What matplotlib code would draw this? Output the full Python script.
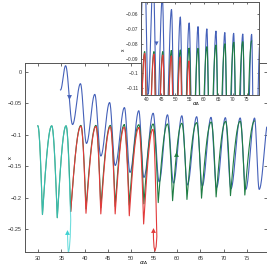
import numpy as np
import matplotlib
matplotlib.use('Agg')
import matplotlib.pyplot as plt
from matplotlib.ticker import FuncFormatter

# ---- data: extrema (peaks / troughs) of each branch ----
cyan_x = [29.9, 30.9, 32.9, 34.1, 36.0, 37.0]
cyan_y = [-0.086, -0.227, -0.086, -0.232, -0.086, -0.235]
cyan_tail_x = [37.0, 36.9, 36.7, 36.5, 36.38, 36.3]
cyan_tail_y = [-0.235, -0.262, -0.281, -0.288, -0.276, -0.256]

red_x = [37.0, 39.2, 40.3, 42.45, 43.5, 45.55, 46.6, 48.55, 49.65, 51.7, 52.75, 54.75, 55.6]
red_y = [-0.222, -0.0865, -0.225, -0.087, -0.226, -0.0876, -0.226, -0.0882, -0.229,
         -0.0891, -0.242, -0.0916, -0.262]
red_tail_x = [55.6, 55.45, 55.2, 55.0, 54.88, 54.85]
red_tail_y = [-0.262, -0.278, -0.285, -0.279, -0.266, -0.254]

green_x = [29.9, 30.9, 32.9, 34.1, 36.0, 37.0, 39.2, 40.3, 42.45, 43.5, 45.55, 46.6,
           48.55, 49.65, 51.7, 52.8, 54.8, 55.9, 57.9, 59.0, 61.0, 62.1, 64.2, 65.25,
           67.35, 68.4, 70.45, 71.5, 73.6, 74.6, 76.7]
green_y = [-0.086, -0.227, -0.086, -0.232, -0.086, -0.222, -0.0853, -0.218, -0.0853,
           -0.216, -0.0853, -0.214, -0.0846, -0.212, -0.0842, -0.210, -0.0831, -0.208,
           -0.0831, -0.205, -0.082, -0.203, -0.0809, -0.201, -0.080, -0.199, -0.079,
           -0.197, -0.0786, -0.196, -0.0782]

blue_x = [34.8, 35.9, 37.4, 39.1, 40.4, 42.2, 43.5, 45.4, 46.6, 48.6, 49.8, 51.7, 52.8,
          54.8, 56.1, 57.9, 59.2, 61.0, 62.2, 64.2, 65.4, 67.3, 68.5, 70.4, 71.6, 73.6,
          74.8, 76.7, 77.7, 79.8]
blue_y = [-0.029, 0.0095, -0.084, -0.019, -0.114, -0.036, -0.134, -0.049, -0.149, -0.057,
          -0.160, -0.062, -0.168, -0.066, -0.175, -0.0685, -0.177, -0.070, -0.180,
          -0.0715, -0.182, -0.0725, -0.184, -0.073, -0.186, -0.0735, -0.187, -0.0737,
          -0.187, -0.074]

# arrow heads (x, y, direction)
arrows_main = [(36.6, -0.041, 'v', 'blue'), (36.3, -0.254, '^', 'cyan'),
               (54.85, -0.252, '^', 'red'), (59.7, -0.131, '^', 'green')]
arrows_inset = [(43.05, -0.0797, 'v', 'blue')]

colors = {'blue': '#4561b9', 'red': '#e23b3b', 'cyan': '#3fd2d2', 'green': '#1f7d43'}


def wave(xs, ys, style='arch', n=40):
    # draw the curve through the extrema, half wave by half wave
    px, py = [], []
    for i in range(len(xs) - 1):
        t = np.linspace(0, 1, n)
        x0, x1, y0, y1 = xs[i], xs[i + 1], ys[i], ys[i + 1]
        if style == 'cos':
            s = (1 - np.cos(np.pi * t)) / 2
        elif y1 < y0:
            s = 1 - np.cos(np.pi * t / 2)   # round top, sharp bottom
        else:
            s = np.sin(np.pi * t / 2)
        px.extend(x0 + (x1 - x0) * t)
        py.extend(y0 + (y1 - y0) * s)
    return np.array(px), np.array(py)


def fmt(v, pos):
    return ('%g' % round(v, 4)).replace('-', '\u2212')


def draw(ax, arrows, ms):
    lw = 0.8
    bx, by = wave(blue_x, blue_y, 'cos')
    ax.plot(bx, by, color=colors['blue'], lw=lw)
    gx, gy = wave(green_x, green_y)
    ax.plot(gx, gy, color=colors['green'], lw=lw)
    rx, ry = wave(red_x, red_y)
    ax.plot(list(rx) + red_tail_x[1:], list(ry) + red_tail_y[1:], color=colors['red'], lw=lw)
    cx, cy = wave(cyan_x, cyan_y)
    ax.plot(list(cx) + cyan_tail_x[1:], list(cy) + cyan_tail_y[1:],
            color=colors['cyan'], lw=lw, alpha=0.75)
    for x, y, m, c in arrows:
        ax.plot(x, y, marker=m, color=colors[c], ms=ms, mew=0)


plt.rcParams['font.family'] = ['Liberation Sans', 'DejaVu Sans']
fig = plt.figure(figsize=(2.67, 2.69), dpi=100)

# main axes
ax = fig.add_axes([25 / 267, (269 - 252.3) / 269, 241.5 / 267, 189.6 / 269])
draw(ax, arrows_main, 3.5)
ax.set_xlim(27.13, 79.28)
ax.set_ylim(-0.287, 0.0143)
ax.set_xticks([30, 35, 40, 45, 50, 55, 60, 65, 70, 75])
ax.set_yticks([0, -0.05, -0.1, -0.15, -0.2, -0.25])
ax.yaxis.set_major_formatter(FuncFormatter(fmt))
ax.tick_params(direction='in', top=True, right=True, length=2, width=0.5,
               labelsize=4, pad=2.5, colors='#333333')
ax.set_xlabel(r'$\alpha_\Delta$', fontsize=4.5, va='center')
ax.xaxis.set_label_coords(0.489, -0.058)
ax.set_ylabel('x', fontsize=4, va='center')
ax.yaxis.set_label_coords(-0.062, 0.497)
for sp in ax.spines.values():
    sp.set_color('#555555')
    sp.set_linewidth(0.7)

# inset
ins = fig.add_axes([140.7 / 267, (269 - 94.5) / 269, 118.6 / 267, 92.8 / 269])
ins.set_zorder(5)
ins.set_facecolor('white')
draw(ins, arrows_inset, 3)
ins.set_xlim(37.8, 79.4)
ins.set_ylim(-0.1142, -0.0517)
ins.set_xticks([40, 45, 50, 55, 60, 65, 70, 75])
ins.set_yticks([-0.06, -0.07, -0.08, -0.09, -0.1, -0.11])
ins.yaxis.set_major_formatter(FuncFormatter(fmt))
ins.tick_params(direction='in', top=True, right=True, length=1.5, width=0.5,
                labelsize=3.5, pad=1.5, colors='#333333')
ins.set_xlabel(r'$\alpha_\Delta$', fontsize=4, va='center')
ins.xaxis.set_label_coords(0.466, -0.105)
ins.set_ylabel('x', fontsize=3.5, va='center')
ins.yaxis.set_label_coords(-0.149, 0.48)
for sp in ins.spines.values():
    sp.set_color('#555555')
    sp.set_linewidth(0.7)

fig.savefig('out.png', dpi=100)
